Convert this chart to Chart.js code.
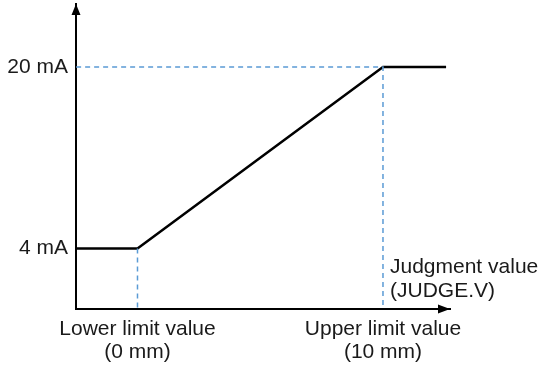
<!DOCTYPE html>
<html>
<head>
<meta charset="utf-8">
<script src="https://cdn.jsdelivr.net/npm/chart.js@4"></script>
<style>
  body { margin: 0; background: #fff; }
  #wrap { width: 554px; height: 366px; position: relative; }
</style>
</head>
<body>
<div id="wrap"><canvas id="chart"></canvas></div>
<script>
// output curve (x in mm, y in mA)
const outX = [-2.5, 0, 10, 12.57];
const outY = [4, 4, 20, 20];
// dashed guide lines
const guideTopX = [-2.5, 10, 10];
const guideTopY = [20, 20, -1.33];
const guideLowX = [0, 0];
const guideLowY = [4, -1.33];
// ticks
const xTicks = [0, 10];
const xTickLabels = [['Lower limit value', '(0 mm)'], ['Upper limit value', '(10 mm)']];
const yTicks = [4, 20];
const yTickLabels = ['4 mA', '20 mA'];
const judgeLabel = ['Judgment value', '(JUDGE.V)'];

const txtColor = '#1a1a1a';
const blue = '#5b9bd5';
const fontFam = '"Liberation Sans", Arial, sans-serif';

const pts = (xs, ys) => xs.map((x, i) => ({ x, y: ys[i] }));

const extras = {
  id: 'extras',
  afterDraw(chart) {
    const ctx = chart.ctx;
    const a = chart.chartArea;
    const xs = chart.scales.x;
    ctx.save();
    ctx.fillStyle = '#000';
    // y axis arrow
    ctx.beginPath();
    ctx.moveTo(a.left, a.top);
    ctx.lineTo(a.left - 4.5, a.top + 11);
    ctx.lineTo(a.left + 4.5, a.top + 11);
    ctx.closePath();
    ctx.fill();
    // x axis arrow
    ctx.beginPath();
    ctx.moveTo(a.right, a.bottom);
    ctx.lineTo(a.right - 12, a.bottom - 4.5);
    ctx.lineTo(a.right - 12, a.bottom + 4.5);
    ctx.closePath();
    ctx.fill();
    // judgment value label
    ctx.fillStyle = txtColor;
    ctx.font = '21px ' + fontFam;
    ctx.textAlign = 'left';
    ctx.textBaseline = 'alphabetic';
    const lx = xs.getPixelForValue(10) + 7;
    ctx.fillText(judgeLabel[0], lx, 273);
    ctx.fillText(judgeLabel[1], lx, 297);
    ctx.restore();
  }
};

new Chart(document.getElementById('chart'), {
  type: 'line',
  data: {
    datasets: [
      { data: pts(guideTopX, guideTopY), borderColor: blue, borderWidth: 1.5, borderDash: [5, 4], pointRadius: 0, tension: 0 },
      { data: pts(guideLowX, guideLowY), borderColor: blue, borderWidth: 1.5, borderDash: [5, 4], pointRadius: 0, tension: 0 },
      { data: pts(outX, outY), borderColor: '#000', borderWidth: 2.5, pointRadius: 0, tension: 0 }
    ]
  },
  options: {
    responsive: true,
    maintainAspectRatio: false,
    animation: false,
    layout: { padding: { top: 4, right: 104, left: 0, bottom: 0 } },
    plugins: { legend: { display: false }, tooltip: { enabled: false } },
    scales: {
      x: {
        type: 'linear',
        min: -2.505,
        max: 12.73,
        grid: { display: false },
        border: { display: true, color: '#000', width: 2 },
        afterBuildTicks: s => { s.ticks = xTicks.map(v => ({ value: v })); },
        afterFit: s => { s.height = 57; s.paddingLeft = 0; s.paddingRight = 0; },
        ticks: {
          padding: 1,
          color: txtColor,
          maxRotation: 0,
          autoSkip: false,
          font: { family: fontFam, size: 21, lineHeight: 1.1 },
          callback: v => xTickLabels[xTicks.indexOf(v)]
        }
      },
      y: {
        type: 'linear',
        min: -1.33,
        max: 25.55,
        grid: { display: false },
        border: { display: true, color: '#000', width: 2 },
        afterBuildTicks: s => { s.ticks = yTicks.map(v => ({ value: v })); },
        afterFit: s => { s.width = 76; s.paddingTop = 0; s.paddingBottom = 0; },
        ticks: {
          padding: 0,
          color: txtColor,
          autoSkip: false,
          font: { family: fontFam, size: 21 },
          callback: v => yTickLabels[yTicks.indexOf(v)]
        }
      }
    }
  },
  plugins: [extras]
});
</script>
</body>
</html>
